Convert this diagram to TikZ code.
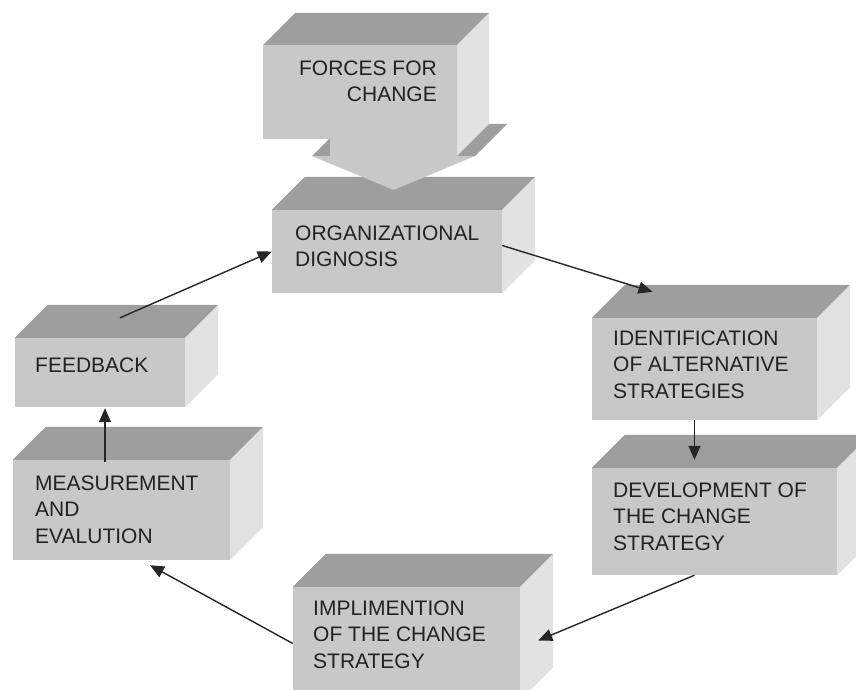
\documentclass[tikz,border=0pt]{standalone}
\usepackage{fontspec}
\setmainfont{Liberation Sans}
\usetikzlibrary{calc,arrows.meta}
\definecolor{frontc}{RGB}{200,200,200}
\definecolor{topc}{RGB}{158,158,158}
\definecolor{sidec}{RGB}{226,226,226}
\definecolor{txtc}{RGB}{34,34,34}
\newcommand{\boxdepth}{33}
\newcommand{\cubefaces}[1]{%
  \fill[topc] (#1.north west) -- ++(\boxdepth,-\boxdepth) -- ($(#1.north east)+(\boxdepth,-\boxdepth)$) -- (#1.north east) -- cycle;
  \fill[sidec] (#1.north east) -- ++(\boxdepth,-\boxdepth) -- ($(#1.south east)+(\boxdepth,-\boxdepth)$) -- (#1.south east) -- cycle;}
\begin{document}
\begin{tikzpicture}[x=1pt,y=-1pt,
  face/.style={fill=frontc, draw=none, inner sep=0pt, rectangle},
  lbl/.style={inner sep=0pt, align=left, anchor=north west, text=txtc, font=\fontsize{21}{26.5}\selectfont},
  conn/.style={line width=1.4pt, draw=black!85, -{Triangle[length=14pt,width=12pt]}}]
\useasboundingbox (0,0) rectangle (856,690);
\clip (0,0) rectangle (856,690);
\fill[white] (0,0) rectangle (856,690);

% Organizational diagnosis
\node[face, minimum width=230pt, minimum height=83pt] (org) at (387,251.5) {};
\cubefaces{org}
\node[lbl] (orgt) at (295,225.5) {ORGANIZATIONAL\\DIGNOSIS};

% Forces for change (3D down-arrow callout)
\fill[topc] (312,156) -- (330,156) -- (362,124) -- (344,124) -- cycle;
\fill[topc] (263,45) -- (457,45) -- (489,13) -- (295,13) -- cycle;
\fill[sidec] (457,45) -- (489,13) -- (489,124) -- (457,156) -- cycle;
\fill[topc] (457,156) -- (475,156) -- (507,124) -- (489,124) -- cycle;
\fill[frontc] (263,45) -- (457,45) -- (457,156) -- (475,156) -- (393.5,190)
   -- (312,156) -- (330,156) -- (330,139) -- (263,139) -- cycle;
\node[lbl, align=right, anchor=north east] (forces) at (437,60.5) {FORCES FOR\\CHANGE};

% Identification
\node[face, minimum width=225pt, minimum height=102pt] (ident) at (704.5,369) {};
\cubefaces{ident}
\node[lbl] (identt) at (613,330.5) {IDENTIFICATION\\OF ALTERNATIVE\\STRATEGIES};

% Development
\node[face, minimum width=245pt, minimum height=107pt] (dev) at (714.5,521.5) {};
\cubefaces{dev}
\node[lbl] (devt) at (613,482.5) {DEVELOPMENT OF\\THE CHANGE\\STRATEGY};

% Feedback
\node[face, minimum width=170pt, minimum height=69pt] (fb) at (100,372.5) {};
\cubefaces{fb}
\node[lbl] (fbt) at (35,357.5) {FEEDBACK};

% Measurement
\node[face, minimum width=217pt, minimum height=100pt] (meas) at (121.5,510) {};
\cubefaces{meas}
\node[lbl] (meast) at (35,475.5) {MEASUREMENT\\AND\\EVALUTION};

% Implementation
\node[face, minimum width=227pt, minimum height=113pt] (impl) at (406.5,643.5) {};
\cubefaces{impl}
\node[lbl] (implt) at (313,600.5) {IMPLIMENTION\\OF THE CHANGE\\STRATEGY};

% Connectors
\draw[conn] ($(fb.north)+(20,-20)$) -- (org.west);
\draw[conn] ($(org.east)+(0,-6)$) -- ($(ident.north)+(-52,-26)$);
\draw[conn] ($(ident.south)+(-10,0)$) -- ($(dev.north)+(-20,-8)$);
\draw[conn] ($(dev.south)+(-20,0)$) -- ($(impl.east)+(18,-3)$);
\draw[conn] (impl.west) -- ($(meas.south)+(28.5,5)$);
\draw[conn] ($(meas.north)+(-16.5,2)$) -- ($(fb.south)+(5,1)$);
\end{tikzpicture}
\end{document}
